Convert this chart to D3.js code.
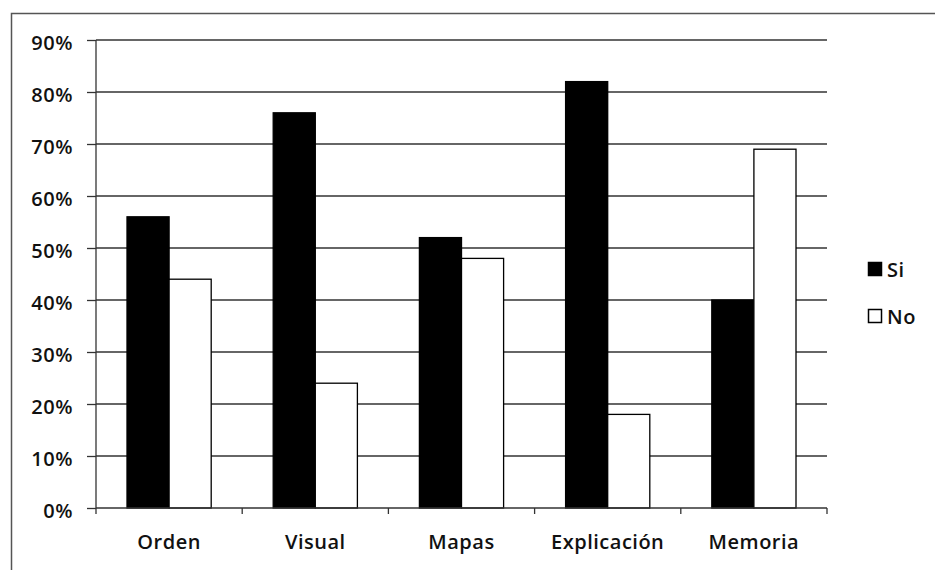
<!DOCTYPE html>
<html>
<head>
<meta charset="utf-8">
<script src="https://cdn.jsdelivr.net/npm/d3@7/dist/d3.min.js"></script>
<style>
  html, body { margin: 0; padding: 0; background: #fff; }
  svg { display: block; }
  text { font-family: "Open Sans", "Noto Sans", sans-serif; fill: #111; font-weight: 600; letter-spacing: 0.5px; }
</style>
</head>
<body>
<svg id="chart" width="935" height="570"></svg>
<script>
// Category labels and series values (percent)
const categories = ["Orden", "Visual", "Mapas", "Explicación", "Memoria"];
const seriesNames = ["Si", "No"];
const siValues = [56, 76, 52, 82, 40];
const noValues = [44, 24, 48, 18, 69];
const yTicks = [0, 10, 20, 30, 40, 50, 60, 70, 80, 90];

const svg = d3.select("#chart");
const margin = { left: 96, right: 108, top: 40, bottom: 62 };
const W = 935, H = 570;
const plotW = W - margin.left - margin.right;   // 731
const plotH = H - margin.top - margin.bottom;   // 468
const FS = 20;

// Outer frame
svg.append("rect")
  .attr("x", 11.5).attr("y", 13.5)
  .attr("width", 940).attr("height", 570)
  .attr("fill", "none").attr("stroke", "#555").attr("stroke-width", 1.5);

const g = svg.append("g").attr("transform", `translate(${margin.left},${margin.top})`);

const x0 = d3.scaleBand().domain(categories).range([0, plotW]).paddingInner(0).paddingOuter(0);
const x1 = d3.scaleBand().domain(seriesNames).range([31, x0.bandwidth() - 31]);
const y = d3.scaleLinear().domain([0, 90]).range([plotH, 0]);

// Horizontal gridlines
g.append("g").selectAll("line").data(yTicks.filter(t => t > 0)).join("line")
  .attr("x1", 0).attr("x2", plotW)
  .attr("y1", d => y(d)).attr("y2", d => y(d))
  .attr("stroke", "#333").attr("stroke-width", 1.3);

// Bars
const rows = categories.map((c, i) => ({ c, vals: [{ s: "Si", v: siValues[i] }, { s: "No", v: noValues[i] }] }));
const grp = g.append("g").selectAll("g").data(rows).join("g")
  .attr("transform", d => `translate(${x0(d.c)},0)`);
grp.selectAll("rect").data(d => d.vals).join("rect")
  .attr("x", d => x1(d.s))
  .attr("y", d => y(d.v))
  .attr("width", x1.bandwidth())
  .attr("height", d => plotH - y(d.v))
  .attr("fill", d => d.s === "Si" ? "#000" : "#fff")
  .attr("stroke", "#000").attr("stroke-width", 1.3);

// Y axis
const yAxis = g.append("g")
  .call(d3.axisLeft(y).tickValues(yTicks).tickFormat(d => d + "%").tickSize(9).tickPadding(14));
yAxis.select(".domain").attr("stroke", "#333").attr("stroke-width", 1.3).attr("d", `M-0,${plotH}V0`);
yAxis.selectAll(".tick line").attr("stroke", "#333").attr("stroke-width", 1.3);
yAxis.selectAll("text").attr("font-size", FS).attr("fill", "#111").attr("dy", "0.45em");

// X axis
const xAxis = g.append("g").attr("transform", `translate(0,${plotH})`)
  .call(d3.axisBottom(x0).tickSize(0).tickPadding(27));
xAxis.select(".domain").attr("stroke", "#333").attr("stroke-width", 1.3).attr("d", `M0,0H${plotW}`);
xAxis.selectAll("text").attr("font-size", FS).attr("fill", "#111");
// Category separators
xAxis.append("g").selectAll("line").data(d3.range(categories.length + 1)).join("line")
  .attr("x1", i => i * x0.bandwidth()).attr("x2", i => i * x0.bandwidth())
  .attr("y1", 0).attr("y2", 6)
  .attr("stroke", "#333").attr("stroke-width", 1.3);

// Legend
const legend = svg.append("g").attr("transform", "translate(868,262)");
seriesNames.forEach((s, i) => {
  const lg = legend.append("g").attr("transform", `translate(0,${i * 47})`);
  lg.append("rect").attr("x", 0.5).attr("y", 0.5).attr("width", 13).attr("height", 13)
    .attr("fill", s === "Si" ? "#000" : "#fff").attr("stroke", "#000").attr("stroke-width", 1.5);
  lg.append("text").attr("x", 19).attr("y", 15).attr("font-size", FS).text(s);
});
</script>
</body>
</html>
